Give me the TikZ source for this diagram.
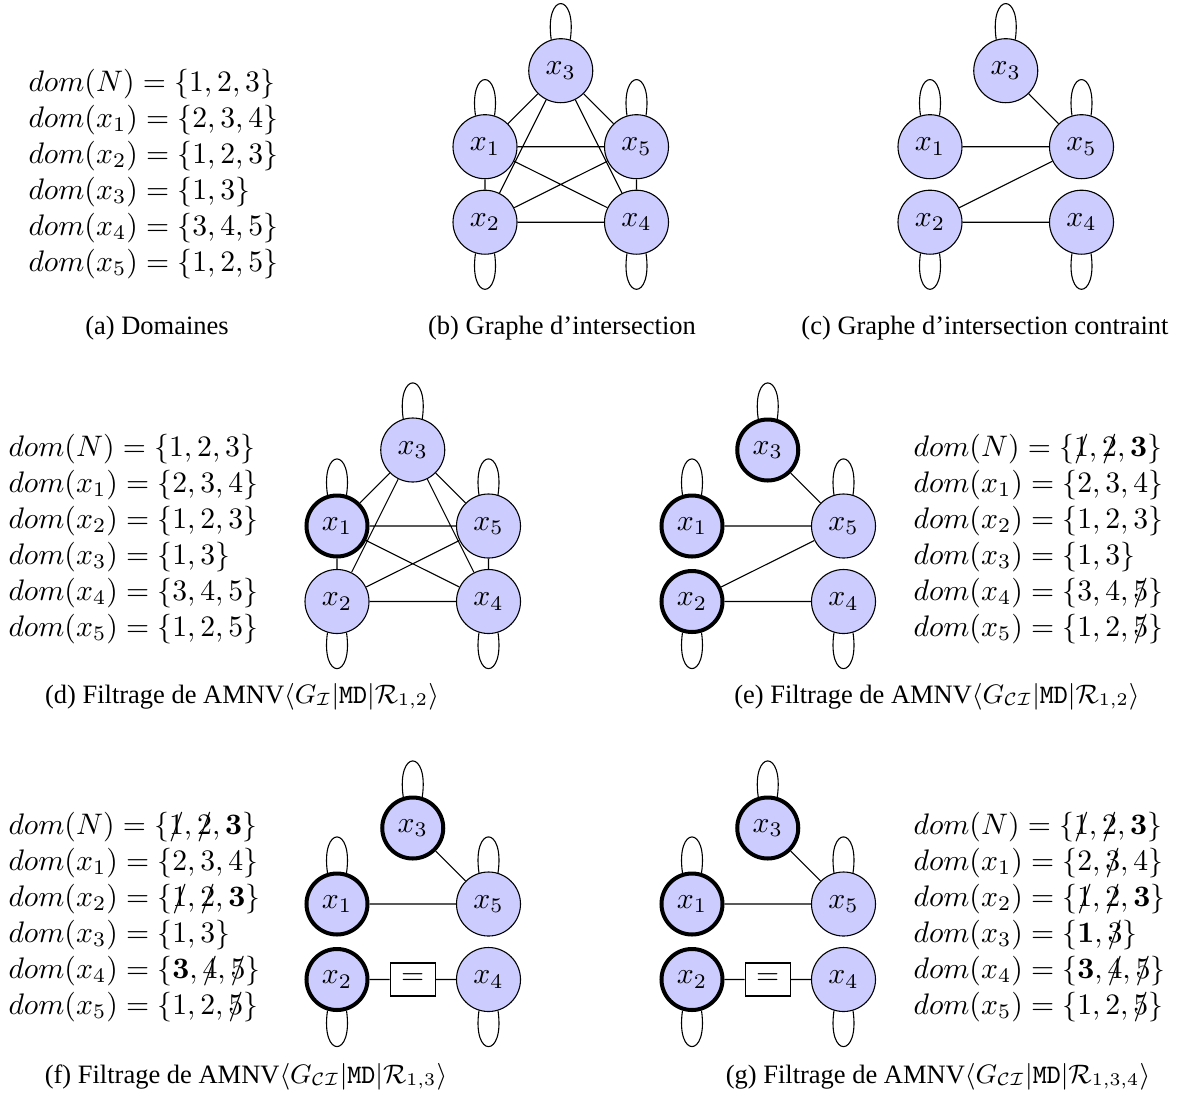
\documentclass[tikz,border=0pt]{standalone}
\usepackage[no-math]{fontspec}
\newfontfamily\capfont{Liberation Serif}
\definecolor{nodeblue}{RGB}{204,204,255}
\newcommand\mfont{\fontsize{10}{12}\selectfont}
\newcommand\strk[1]{\ooalign{$#1$\cr\hidewidth$/$\hidewidth\cr}}
\newcommand\lpup[1]{\draw (#1.73) .. controls +(7,-48) and +(-7,-48) .. (#1.107);}
\newcommand\lpdn[1]{\draw (#1.-73) .. controls +(7,48) and +(-7,48) .. (#1.-107);}
\newcommand\gnodes[6]{%
  \node[#4] (#1x1) at ({#2},{#3}) {$x_1$};
  \node[#5] (#1x2) at ({#2},{#3+75.5}) {$x_2$};
  \node[#6] (#1x3) at ({#2+75.75},{#3-76}) {$x_3$};
  \node[vn] (#1x5) at ({#2+151.5},{#3}) {$x_5$};
  \node[vn] (#1x4) at ({#2+151.5},{#3+75.5}) {$x_4$};
  \lpup{#1x3}\lpup{#1x1}\lpup{#1x5}\lpdn{#1x2}\lpdn{#1x4}}
\newcommand\kfull[1]{\draw (#1x1)--(#1x2) (#1x1)--(#1x3) (#1x1)--(#1x4) (#1x1)--(#1x5)
  (#1x2)--(#1x3) (#1x2)--(#1x4) (#1x2)--(#1x5) (#1x3)--(#1x4) (#1x3)--(#1x5) (#1x4)--(#1x5);}
\begin{document}
\begin{tikzpicture}[x=0.3367pt,y=-0.3367pt,line width=0.37pt,
  vn/.style={circle, draw, line width=0.37pt, fill=nodeblue, minimum size=21.55pt, inner sep=0pt, font=\mfont},
  vt/.style={vn, line width=1.35pt, minimum size=20.54pt},
  dl/.style={anchor=base west, inner sep=0pt, font=\mfont},
  captxt/.style={anchor=base, inner sep=0pt, font=\capfont\fontsize{8.92}{10}\selectfont},
  eqbox/.style={draw, rectangle, fill=white, minimum width=15.15pt, minimum height=11.11pt, inner sep=0pt, font=\mfont}]
\useasboundingbox (0,0) rectangle (1183,1102);

% (a) domains
\node[dl] (a1) at (28,91)  {$dom(N) = \{1,2,3\}$};
\node[dl] (a2) at (28,127) {$dom(x_1) = \{2,3,4\}$};
\node[dl] (a3) at (28,163) {$dom(x_2) = \{1,2,3\}$};
\node[dl] (a4) at (28,199) {$dom(x_3) = \{1,3\}$};
\node[dl] (a5) at (28,235) {$dom(x_4) = \{3,4,5\}$};
\node[dl] (a6) at (28,271) {$dom(x_5) = \{1,2,5\}$};
\node[captxt] (capa) at (157,334) {(a) Domaines};

% (b)
\gnodes{b}{485}{146.7}{vn}{vn}{vn}
\kfull{b}
\node[captxt] (capb) at (562,334) {(b) Graphe d’intersection};

% (c)
\gnodes{c}{930}{146.7}{vn}{vn}{vn}
\draw (cx3)--(cx5) (cx1)--(cx5) (cx2)--(cx5) (cx2)--(cx4);
\node[captxt] (capc) at (985,334) {(c) Graphe d’intersection contraint};

% (d)
\node[dl] (d1) at (8,456) {$dom(N) = \{1,2,3\}$};
\node[dl] (d2) at (8,492) {$dom(x_1) = \{2,3,4\}$};
\node[dl] (d3) at (8,528) {$dom(x_2) = \{1,2,3\}$};
\node[dl] (d4) at (8,564) {$dom(x_3) = \{1,3\}$};
\node[dl] (d5) at (8,600) {$dom(x_4) = \{3,4,5\}$};
\node[dl] (d6) at (8,636) {$dom(x_5) = \{1,2,5\}$};
\gnodes{d}{337}{526}{vt}{vn}{vn}
\kfull{d}
\node[captxt] (capd) at (242,703) {(d) Filtrage de AMNV$\langle G_{\mathcal{I}}|\mathtt{MD}|\mathcal{R}_{1,2}\rangle$};

% (e)
\gnodes{e}{692}{526}{vt}{vt}{vt}
\draw (ex3)--(ex5) (ex1)--(ex5) (ex2)--(ex5) (ex2)--(ex4);
\node[dl] (e1) at (913,456) {$dom(N) = \{\strk{1},\strk{2},\mathbf{3}\}$};
\node[dl] (e2) at (913,492) {$dom(x_1) = \{2,3,4\}$};
\node[dl] (e3) at (913,528) {$dom(x_2) = \{1,2,3\}$};
\node[dl] (e4) at (913,564) {$dom(x_3) = \{1,3\}$};
\node[dl] (e5) at (913,600) {$dom(x_4) = \{3,4,\strk{5}\}$};
\node[dl] (e6) at (913,636) {$dom(x_5) = \{1,2,\strk{5}\}$};
\node[captxt] (cape) at (937,703) {(e) Filtrage de AMNV$\langle G_{\mathcal{CI}}|\mathtt{MD}|\mathcal{R}_{1,2}\rangle$};

% (f)
\node[dl] (f1) at (8,834)  {$dom(N) = \{\strk{1},\strk{2},\mathbf{3}\}$};
\node[dl] (f2) at (8,870)  {$dom(x_1) = \{2,3,4\}$};
\node[dl] (f3) at (8,906)  {$dom(x_2) = \{\strk{1},\strk{2},\mathbf{3}\}$};
\node[dl] (f4) at (8,942)  {$dom(x_3) = \{1,3\}$};
\node[dl] (f5) at (8,978)  {$dom(x_4) = \{\mathbf{3},\strk{4},\strk{5}\}$};
\node[dl] (f6) at (8,1014) {$dom(x_5) = \{1,2,\strk{5}\}$};
\gnodes{f}{337}{904}{vt}{vt}{vt}
\node[eqbox] (feq) at (412.75,979.5) {$=$};
\draw (fx3)--(fx5) (fx1)--(fx5) (fx2)--(feq) (feq)--(fx4);
\node[captxt] (capf) at (246,1083) {(f) Filtrage de AMNV$\langle G_{\mathcal{CI}}|\mathtt{MD}|\mathcal{R}_{1,3}\rangle$};

% (g)
\gnodes{g}{692}{904}{vt}{vt}{vt}
\node[eqbox] (geq) at (767.75,979.5) {$=$};
\draw (gx3)--(gx5) (gx1)--(gx5) (gx2)--(geq) (geq)--(gx4);
\node[dl] (g1) at (913,834)  {$dom(N) = \{\strk{1},\strk{2},\mathbf{3}\}$};
\node[dl] (g2) at (913,870)  {$dom(x_1) = \{2,\strk{3},4\}$};
\node[dl] (g3) at (913,906)  {$dom(x_2) = \{\strk{1},\strk{2},\mathbf{3}\}$};
\node[dl] (g4) at (913,942)  {$dom(x_3) = \{\mathbf{1},\strk{3}\}$};
\node[dl] (g5) at (913,978)  {$dom(x_4) = \{\mathbf{3},\strk{4},\strk{5}\}$};
\node[dl] (g6) at (913,1014) {$dom(x_5) = \{1,2,\strk{5}\}$};
\node[captxt] (capg) at (938,1083) {(g) Filtrage de AMNV$\langle G_{\mathcal{CI}}|\mathtt{MD}|\mathcal{R}_{1,3,4}\rangle$};
\end{tikzpicture}
\end{document}
